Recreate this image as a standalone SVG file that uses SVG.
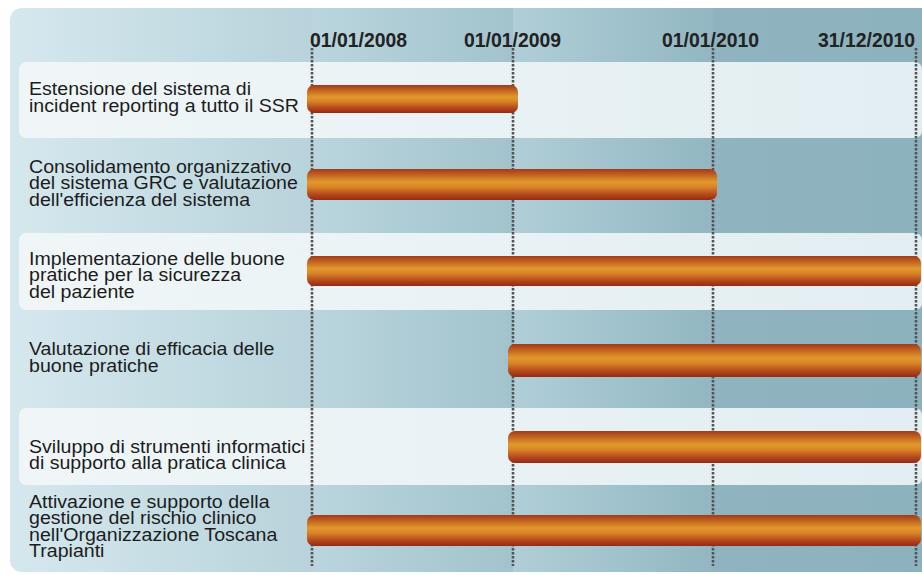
<svg xmlns="http://www.w3.org/2000/svg" width="922" height="575" viewBox="0 0 922 575">
<style>
.lbl{font-family:"Liberation Sans",Arial,sans-serif;font-size:17.5px;fill:#1c1c1c}
.date{font-family:"Liberation Sans",Arial,sans-serif;font-size:19.4px;font-weight:bold;fill:#222}
.grid{stroke:#555;stroke-width:2.6;stroke-dasharray:2.5 1.5;fill:none}
.bar{fill:url(#barG)}
.lrow{fill:url(#rowG)}
</style>
<defs>
<linearGradient id="barG" x1="0" y1="0" x2="0" y2="1">
<stop offset="0" stop-color="#a3391b"/>
<stop offset="0.18" stop-color="#c0611f"/>
<stop offset="0.42" stop-color="#e2982c"/>
<stop offset="0.58" stop-color="#d98428"/>
<stop offset="0.82" stop-color="#b4491c"/>
<stop offset="1" stop-color="#952915"/>
</linearGradient>
<linearGradient id="rowG" x1="0" y1="0" x2="1" y2="0">
<stop offset="0" stop-color="#f0f6f8"/>
<stop offset="1" stop-color="#e2eef2"/>
</linearGradient>
<linearGradient id="c0" x1="0" y1="0" x2="1" y2="0">
<stop offset="0" stop-color="#d5e8ee"/>
<stop offset="1" stop-color="#b8d3db"/>
</linearGradient>
<linearGradient id="c1" x1="0" y1="0" x2="1" y2="0">
<stop offset="0" stop-color="#bad5dd"/>
<stop offset="1" stop-color="#a2c3cd"/>
</linearGradient>
<linearGradient id="c2" x1="0" y1="0" x2="1" y2="0">
<stop offset="0" stop-color="#b0ced7"/>
<stop offset="1" stop-color="#92b7c2"/>
</linearGradient>
<linearGradient id="c3" x1="0" y1="0" x2="1" y2="0">
<stop offset="0" stop-color="#8fb4c0"/>
<stop offset="1" stop-color="#8cb2be"/>
</linearGradient>
<clipPath id="panelClip"><rect x="10" y="8" width="940" height="564" rx="12"/></clipPath>
</defs>
<rect width="922" height="575" fill="#ffffff"/>
<g id="panel" clip-path="url(#panelClip)">
<rect x="10" y="8" width="302" height="564" fill="url(#c0)"/>
<rect x="312" y="8" width="201" height="564" fill="url(#c1)"/>
<rect x="513" y="8" width="200" height="564" fill="url(#c2)"/>
<rect x="713" y="8" width="209" height="564" fill="url(#c3)"/>
</g>
<g id="rows">
<rect class="lrow" x="19" y="62" width="903" height="76" rx="7"/>
<rect class="lrow" x="19" y="233" width="903" height="77" rx="7"/>
<rect class="lrow" x="19" y="408" width="903" height="77" rx="7"/>
</g>
<g id="dates">
<text class="date" x="310" y="47">01/01/2008</text>
<text class="date" x="464" y="47">01/01/2009</text>
<text class="date" x="662" y="47">01/01/2010</text>
<text class="date" x="818" y="47">31/12/2010</text>
</g>
<g id="connectors">
<line class="grid" x1="312" y1="48" x2="312" y2="566"/>
<line class="grid" x1="513" y1="48" x2="513" y2="566"/>
<line class="grid" x1="713" y1="48" x2="713" y2="566"/>
<line class="grid" x1="916" y1="48" x2="916" y2="566"/>
</g>
<g id="task1">
<text class="lbl" transform="translate(29 0) scale(1.12 1)"><tspan x="0" y="95">Estensione del sistema di</tspan><tspan x="0" y="112">incident reporting a tutto il SSR</tspan></text>
<rect class="bar" x="307" y="85" width="211" height="28" rx="7"/>
</g>
<g id="task2">
<text class="lbl" transform="translate(29 0) scale(1.12 1)"><tspan x="0" y="173">Consolidamento organizzativo</tspan><tspan x="0" y="189.5">del sistema GRC e valutazione</tspan><tspan x="0" y="206">dell'efficienza del sistema</tspan></text>
<rect class="bar" x="307" y="169" width="410" height="31" rx="7"/>
</g>
<g id="task3">
<text class="lbl" transform="translate(29 0) scale(1.12 1)"><tspan x="0" y="265">Implementazione delle buone</tspan><tspan x="0" y="281.5">pratiche per la sicurezza</tspan><tspan x="0" y="298">del paziente</tspan></text>
<rect class="bar" x="307" y="256" width="614" height="30" rx="7"/>
</g>
<g id="task4">
<text class="lbl" transform="translate(29 0) scale(1.12 1)"><tspan x="0" y="355">Valutazione di efficacia delle</tspan><tspan x="0" y="372">buone pratiche</tspan></text>
<rect class="bar" x="508" y="344" width="413" height="33" rx="7"/>
</g>
<g id="task5">
<text class="lbl" transform="translate(29 0) scale(1.12 1)"><tspan x="0" y="453">Sviluppo di strumenti informatici</tspan><tspan x="0" y="469.5">di supporto alla pratica clinica</tspan></text>
<rect class="bar" x="508" y="431" width="413" height="32" rx="7"/>
</g>
<g id="task6">
<text class="lbl" transform="translate(29 0) scale(1.12 1)"><tspan x="0" y="508">Attivazione e supporto della</tspan><tspan x="0" y="524.5">gestione del rischio clinico</tspan><tspan x="0" y="541">nell'Organizzazione Toscana</tspan><tspan x="0" y="557.5">Trapianti</tspan></text>
<rect class="bar" x="307" y="515" width="614" height="31" rx="7"/>
</g>
</svg>
